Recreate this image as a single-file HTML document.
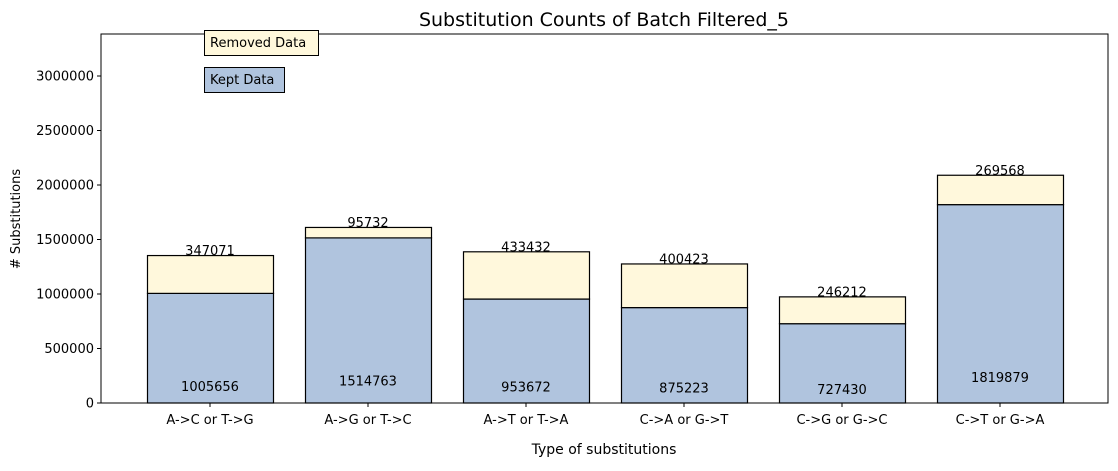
<!DOCTYPE html>
<html><head><meta charset="utf-8"><style>
body{margin:0;background:#fff;font-family:"Liberation Sans","DejaVu Sans",sans-serif;}
svg text{font-family:"DejaVu Sans","Liberation Sans",sans-serif;}
</style></head><body>
<svg id="chart" width="1118" height="466" xmlns="http://www.w3.org/2000/svg">
<text x="604" y="26" font-size="19" text-anchor="middle">Substitution Counts of Batch Filtered_5</text>
<text transform="translate(20,219) rotate(-90)" font-size="13" text-anchor="middle"># Substitutions</text>
<text x="604" y="454" font-size="14" text-anchor="middle">Type of substitutions</text>
<g id="bars"></g>
<g id="axes"></g>
<rect x="101" y="34" width="1007" height="369" fill="none" stroke="#000" stroke-width="1"/>
<g>
<rect x="204.5" y="30.5" width="114" height="25" fill="#fff8dc" stroke="#000"/>
<text x="210" y="47" font-size="13">Removed Data</text></g>
<g>
<rect x="204.5" y="67.5" width="80" height="25" fill="#b0c4de" stroke="#000"/>
<text x="210" y="84" font-size="13">Kept Data</text></g>
</svg>
<script>
const categories=["A->C or T->G","A->G or T->C","A->T or T->A","C->A or G->T","C->G or G->C","C->T or G->A"];
const keptValues=[1005656,1514763,953672,875223,727430,1819879];
const removedValues=[347071,95732,433432,400423,246212,269568];
const yTicks=[0,500000,1000000,1500000,2000000,2500000,3000000];
const NS="http://www.w3.org/2000/svg";
const y0=403,pxPer=109/1000000;
function yScale(v){return y0-v*pxPer;}
function xScale(i){return 210+i*158;}
const bw=126;
const bars=document.getElementById('bars'),axes=document.getElementById('axes');
function mk(tag,attrs,parent){const e=document.createElementNS(NS,tag);for(const k in attrs)e.setAttribute(k,attrs[k]);parent.appendChild(e);return e;}
categories.forEach((c,i)=>{
 const x=xScale(i)-bw/2,k=keptValues[i],r=removedValues[i];
 const kb=mk('rect',{x:x+0.5,y:yScale(k),width:bw,height:yScale(0)-yScale(k),fill:'#b0c4de',stroke:'#000','stroke-width':1.2},bars);
 
 
 const rb=mk('rect',{x:x+0.5,y:yScale(k+r),width:bw,height:yScale(k)-yScale(k+r),fill:'#fff8dc',stroke:'#000','stroke-width':1.2},bars);
 
 
 const kt=mk('text',{x:xScale(i),y:yScale(k*0.1)-1,'font-size':13,'text-anchor':'middle'},bars);kt.textContent=k;
 
 
 const rt=mk('text',{x:xScale(i),y:yScale(k+r)-0.5,'font-size':13,'text-anchor':'middle'},bars);rt.textContent=r;
 
 
 mk('line',{x1:xScale(i),x2:xScale(i),y1:403,y2:407,stroke:'#000'},axes);
 const xt=mk('text',{x:xScale(i),y:424,'font-size':13,'text-anchor':'middle'},axes);xt.textContent=c;
 
 
});
yTicks.forEach(t=>{
 const y=yScale(t);
 mk('line',{x1:97,x2:101,y1:y,y2:y,stroke:'#000'},axes);
 const tt=mk('text',{x:94,y:y+4.5,'font-size':13,'text-anchor':'end'},axes);tt.textContent=t;
 
 
});
</script>
</body></html>
